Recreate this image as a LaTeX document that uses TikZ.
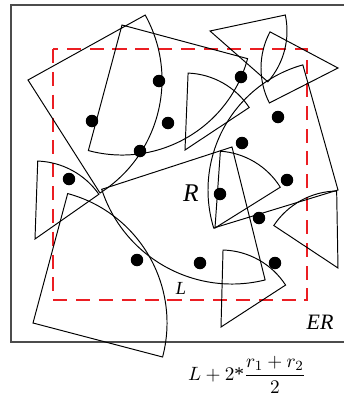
\documentclass[tikz,border=0pt]{standalone}
\usepackage{amsmath,amssymb}
\usepackage{fontspec}
\setmainfont{Liberation Serif}

\begin{document}
\begin{tikzpicture}[x=0.02cm,y=-0.02cm]
\tikzset{
  sector/.style={draw,line width=0.55pt,line join=miter},
  target/.style={circle,fill=black,inner sep=0pt,minimum size=2.5mm},
  region/.style={draw={rgb,255:red,235;green,30;blue,35},line width=1.2pt,dash pattern=on 8pt off 5pt},
  frame/.style={draw=black!70,line width=1.1pt},
  lbl/.style={inner sep=0pt,font=\itshape}
}
\useasboundingbox (0,0) rectangle (343,396);
\draw[frame] (11,5) rectangle (352,342);
\draw[region] (53,49) rectangle (307,300);
% sector apexes
\coordinate (s_a) at (28,80);
\coordinate (s_b) at (122,25);
\coordinate (s_c) at (185,150);
\coordinate (s_d) at (35,239);
\coordinate (s_e) at (33,323);
\coordinate (s_f) at (232,147);
\coordinate (s_g) at (215,228);
\coordinate (s_h) at (221,327);
\coordinate (s_i) at (338,268);
\coordinate (s_j) at (210,31);
\coordinate (s_k) at (338,68);
\coordinate (s_m) at (338,190);
\draw[sector] (s_a) -- ++(-29:134) arc[start angle=-29,end angle=57.5,radius=134] -- cycle;
\draw[sector] (s_b) -- ++(15:130) arc[start angle=15,end angle=105,radius=130] -- cycle;
\draw[sector] (s_c) -- ++(-87.7:77) arc[start angle=-87.7,end angle=-33.5,radius=77] -- cycle;
\draw[sector] (s_d) -- ++(-88:78) arc[start angle=-88,end angle=-35,radius=78] -- cycle;
\draw[sector] (s_e) -- ++(-75:134) arc[start angle=-75,end angle=14.7,radius=134] -- cycle;
\draw[sector] (s_f) -- ++(76:137) arc[start angle=76,end angle=162,radius=137] -- cycle;
\draw[sector] (s_g) -- ++(-86:77) arc[start angle=-86,end angle=-32,radius=77] -- cycle;
\draw[sector] (s_h) -- ++(-88.5:77) arc[start angle=-88.5,end angle=-33,radius=77] -- cycle;
\draw[sector] (s_i) -- ++(-146.5:77) arc[start angle=-146.5,end angle=-91,radius=77] -- cycle;
\draw[sector] (s_j) -- ++(-12:77) arc[start angle=-12,end angle=41.3,radius=77] -- cycle;
\draw[sector] (s_k) -- ++(153:77) arc[start angle=153,end angle=208,radius=77] -- cycle;
\draw[sector] (s_m) -- ++(163:130) arc[start angle=163,end angle=254.3,radius=130] -- cycle;
% targets
\node[target] (t_1) at (159,81) {};
\node[target] (t_2) at (92,121) {};
\node[target] (t_3) at (168,123) {};
\node[target] (t_4) at (140,151) {};
\node[target] (t_5) at (241,77) {};
\node[target] (t_6) at (278,117) {};
\node[target] (t_7) at (242,143) {};
\node[target] (t_8) at (287,180) {};
\node[target] (t_9) at (69,179) {};
\node[target] (t_10) at (137,260) {};
\node[target] (t_11) at (220,194) {};
\node[target] (t_12) at (259,218) {};
\node[target] (t_13) at (200,263) {};
\node[target] (t_14) at (275,263) {};
% labels
\node[lbl,font=\fontsize{14.5}{16}\selectfont\itshape] (lab_R) at (191,193) {R};
\node[lbl,font=\fontsize{10.5}{12}\selectfont\itshape] (lab_L) at (181,288) {L};
\node[lbl,font=\fontsize{12.5}{14}\selectfont\itshape] (lab_ER) at (320,322) {ER};
\node[inner sep=0pt,font=\fontsize{11}{13}\selectfont] (lab_f) at (247,375) {$L+2\text{*}\dfrac{r_1+r_2}{2}$};
\end{tikzpicture}
\end{document}
